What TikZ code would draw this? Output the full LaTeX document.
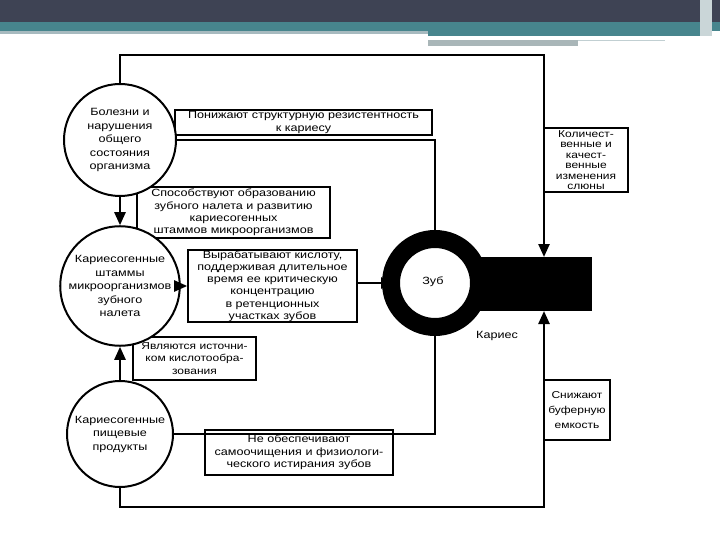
\documentclass[tikz,border=0pt]{standalone}
\usepackage{fontspec}
\setmainfont{Liberation Sans}
\newfontfamily\df[FakeStretch=1.2]{Liberation Sans}
\usetikzlibrary{arrows.meta}
\definecolor{hdark}{HTML}{3E4354}
\definecolor{hteal}{HTML}{47858D}
\definecolor{hgray}{HTML}{A7BABF}
\definecolor{hgray2}{HTML}{A9B6B8}
\begin{document}
\begin{tikzpicture}[x=1pt,y=-1pt,
  ln/.style={line width=2.4pt},
  arr/.style={line width=2.4pt,-{Triangle[length=13pt,width=11pt]}},
  bx/.style={draw,line width=1.6pt,fill=white,align=center,inner sep=0pt,
     font={\df\fontsize{10.5}{12.3}\selectfont}},
  circ/.style={circle,draw,line width=2pt,fill=white,align=center,inner sep=0pt,
     font={\df\fontsize{10.5}{13.5}\selectfont}},
  lbl/.style={font={\df\fontsize{10.5}{12}\selectfont},inner sep=0pt}]
\useasboundingbox (0,0) rectangle (720,540);
% header
\fill[hdark] (0,0) rectangle (720,22);
\fill[hteal] (0,22) rectangle (720,31);
\fill[hgray] (0,31) rectangle (428,34);
\fill[hteal] (428,31) rectangle (705,36);
\fill[hgray2] (428,40) rectangle (578,46);
\fill[hgray!70] (578,40) rectangle (665,41.5);
\fill[hgray!60] (700,0) rectangle (712,36);
% coordinates
\coordinate (tr) at (544,55);
\coordinate (br) at (544,507);
\coordinate (bt) at (544,257);
\coordinate (bb) at (544,311);
% boxes
\node[bx,minimum width=257,minimum height=25] (b1) at (303.5,122.5)
  {Понижают структурную резистентность\\к кариесу};
\node[bx,minimum width=193,minimum height=51] (b2) at (233.5,212.5)
  {Способствуют образованию\\зубного налета и развитию\\кариесогенных\\штаммов микроорганизмов};
\node[bx,minimum width=169,minimum height=72] (b3) at (272.5,286)
  {Вырабатывают кислоту,\\поддерживая длительное\\время ее критическую\\концентрацию\\в ретенционных\\участках зубов};
\node[bx,minimum width=123,minimum height=43,font={\df\fontsize{10}{12.3}\selectfont}] (b4) at (194.5,358.5)
  {Являются источни-\\ком кислотообра-\\зования};
\node[bx,minimum width=188,minimum height=45] (b5) at (299,452.5)
  {Не обеспечивают\\самоочищения и физиологи-\\ческого истирания зубов};
\node[bx,minimum width=84,minimum height=64,font={\df\fontsize{10}{10.5}\selectfont}] (b6) at (586,160)
  {Количест-\\венные и\\качест-\\венные\\изменения\\слюны};
\node[bx,minimum width=66,minimum height=60,font={\df\fontsize{10}{15}\selectfont}] (b7) at (577,410)
  {Снижают\\буферную\\емкость};
% circles
\node[circ,minimum size=112] (c1) at (120,140)
  {Болезни и\\нарушения\\общего\\состояния\\организма};
\node[circ,minimum size=102] (c2) at (120,286)
  {Кариесогенные\\штаммы\\микроорганизмов\\зубного\\налета};
\node[circ,minimum size=106] (c3) at (120,434)
  {Кариесогенные\\пищевые\\продукты};
% tooth
\fill (465,257) rectangle (592,311);
\node[circle,draw,line width=18pt,fill=white,minimum size=88,inner sep=0pt] (ring) at (435,283) {};
\node[lbl] (zub) at (433,282) {Зуб};
\node[lbl] (kar) at (497,336) {Кариес};
% connectors
\draw[arr] (c1.north) |- (tr) -- (bt);
\draw[arr] (c3.south) |- (br) -- (bb);
\draw[ln] (c1.east) -| (ring.north);
\draw[ln] (c3.east) -| (ring.south);
\draw[arr] (c1.south) -- (c2.north);
\draw[arr] (c3.north) -- (c2.south);
\draw[arr] ([xshift=-6pt]c2.east |- b3.west) -- (b3.west);
\draw[arr] (b3.east |- ring.west) -- ([xshift=12pt]ring.west);
\end{tikzpicture}
\end{document}
